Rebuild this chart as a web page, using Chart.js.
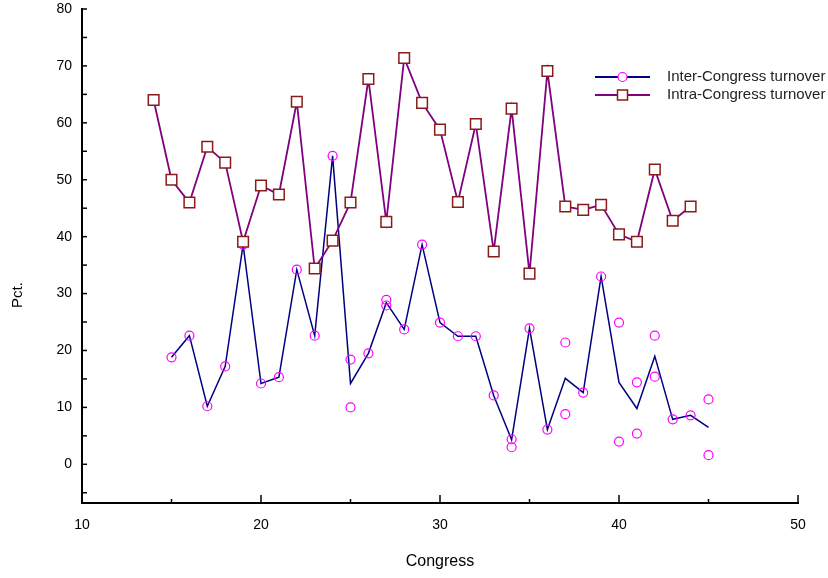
<!DOCTYPE html>
<html>
<head>
<meta charset="utf-8">
<script src="https://cdn.jsdelivr.net/npm/chart.js@4.4.1/dist/chart.umd.min.js"></script>
<style>
  html, body { margin: 0; padding: 0; background: #fff; }
  #wrap { width: 828px; height: 578px; }
</style>
</head>
<body>
<div id="wrap"><canvas id="chart" width="828" height="578"></canvas></div>
<script>
// Intra-Congress turnover, congresses 14..44
const intraCongress = [14, 15, 16, 17, 18, 19, 20, 21, 22, 23, 24, 25, 26, 27, 28, 29, 30, 31, 32, 33, 34, 35, 36, 37, 38, 39, 40, 41, 42, 43, 44];
const intraValues = [64.0, 50.0, 46.0, 55.8, 53.0, 39.1, 49.0, 47.4, 63.7, 34.4, 39.3, 46.0, 67.7, 42.6, 71.4, 63.5, 58.8, 46.1, 59.8, 37.4, 62.5, 33.5, 69.1, 45.3, 44.7, 45.6, 40.4, 39.1, 51.8, 42.8, 45.3];

// Inter-Congress turnover line, congresses 15..45
const interCongress = [15, 16, 17, 18, 19, 20, 21, 22, 23, 24, 25, 26, 27, 28, 29, 30, 31, 32, 33, 34, 35, 36, 37, 38, 39, 40, 41, 42, 43, 44, 45];
const interLine = [18.8, 22.6, 10.2, 17.2, 38.6, 14.2, 15.3, 34.2, 22.6, 54.2, 14.2, 19.5, 28.4, 23.7, 38.6, 24.9, 22.5, 22.5, 12.1, 4.3, 23.9, 6.1, 15.1, 12.6, 33.0, 14.4, 9.8, 19.0, 7.9, 8.6, 6.5];

// Inter-Congress turnover observations (circles)
const obsCongress = [15, 16, 17, 18, 19, 20, 21, 22, 23, 24, 25, 25, 26, 27, 27, 28, 29, 30, 31, 32, 33, 34, 34, 35, 36, 37, 37, 38, 39, 40, 40, 41, 41, 42, 42, 43, 44, 45, 45];
const obsValues = [18.8, 22.6, 10.2, 17.2, 38.6, 14.2, 15.3, 34.2, 22.6, 54.2, 18.4, 10.0, 19.5, 28.9, 27.9, 23.7, 38.6, 24.9, 22.5, 22.5, 12.1, 4.4, 3.0, 23.9, 6.1, 21.4, 8.8, 12.6, 33.0, 24.9, 4.0, 14.4, 5.4, 22.6, 15.4, 7.9, 8.6, 11.4, 1.6];

const xTickLabels = [10, 20, 30, 40, 50];
const yTickLabels = [0, 10, 20, 30, 40, 50, 60, 70, 80];

const seriesNames = ['Inter-Congress turnover', 'Intra-Congress turnover'];

const NAVY = '#000080';
const PURPLE = '#800080';
const SQUARE_EDGE = '#8b1a1a';
const MAGENTA = '#ff00ff';
const tickFont = 'Liberation Sans Narrow, Arial Narrow, Liberation Sans, Arial, sans-serif';

const toPts = (xs, ys) => xs.map((x, i) => ({ x: x, y: ys[i] }));

// inward tick marks, like the original plot
const innerTicks = {
  id: 'innerTicks',
  afterDraw(chart) {
    const { ctx, scales: { x, y } } = chart;
    ctx.save();
    ctx.strokeStyle = '#000';
    ctx.lineWidth = 1.5;
    for (let v = 10; v <= 50; v += 5) {
      const px = x.getPixelForValue(v);
      const len = v % 10 === 0 ? 8 : 4;
      ctx.beginPath();
      ctx.moveTo(px, y.bottom);
      ctx.lineTo(px, y.bottom - len);
      ctx.stroke();
    }
    for (let v = -5; v <= 80; v += 5) {
      const py = y.getPixelForValue(v);
      ctx.beginPath();
      ctx.moveTo(x.left, py);
      ctx.lineTo(x.left + 5, py);
      ctx.stroke();
    }
    // y axis title sits a little below the middle in the original
    ctx.fillStyle = '#000';
    ctx.font = '15px ' + tickFont;
    ctx.textAlign = 'center';
    ctx.textBaseline = 'middle';
    ctx.translate(18, 295);
    ctx.rotate(-Math.PI / 2);
    ctx.fillText('Pct.', 0, 0);
    ctx.restore();
  }
};

// legend with a line and a marker in the middle
const lineLegend = {
  id: 'lineLegend',
  afterDraw(chart) {
    const ctx = chart.ctx;
    const x0 = 595, x1 = 650, rows = [77, 95];
    ctx.save();
    ctx.font = '15px Liberation Sans, Arial, sans-serif';
    ctx.textBaseline = 'middle';
    // row 1
    ctx.strokeStyle = NAVY;
    ctx.lineWidth = 2;
    ctx.beginPath(); ctx.moveTo(x0, rows[0]); ctx.lineTo(x1, rows[0]); ctx.stroke();
    ctx.fillStyle = '#fff';
    ctx.strokeStyle = MAGENTA;
    ctx.lineWidth = 1.2;
    ctx.beginPath(); ctx.arc((x0 + x1) / 2, rows[0], 4.5, 0, Math.PI * 2); ctx.fill(); ctx.stroke();
    // row 2
    ctx.strokeStyle = PURPLE;
    ctx.lineWidth = 2;
    ctx.beginPath(); ctx.moveTo(x0, rows[1]); ctx.lineTo(x1, rows[1]); ctx.stroke();
    ctx.fillStyle = '#fff';
    ctx.strokeStyle = SQUARE_EDGE;
    ctx.lineWidth = 1.5;
    ctx.fillRect((x0 + x1) / 2 - 5, rows[1] - 5, 10, 10);
    ctx.strokeRect((x0 + x1) / 2 - 5, rows[1] - 5, 10, 10);
    ctx.fillStyle = '#222';
    ctx.fillText(seriesNames[0], 667, rows[0]);
    ctx.fillText(seriesNames[1], 667, rows[1]);
    ctx.restore();
  }
};

new Chart(document.getElementById('chart'), {
  type: 'scatter',
  data: {
    datasets: [
      {
        label: seriesNames[1],
        data: toPts(intraCongress, intraValues),
        showLine: true,
        borderColor: PURPLE,
        borderWidth: 1.8,
        pointStyle: 'rect',
        pointRadius: 7.5,
        pointBorderColor: SQUARE_EDGE,
        pointBorderWidth: 1.5,
        pointBackgroundColor: '#fff',
        order: 0
      },
      {
        label: seriesNames[0] + ' obs',
        data: toPts(obsCongress, obsValues),
        showLine: false,
        pointStyle: 'circle',
        pointRadius: 4.5,
        pointBorderColor: MAGENTA,
        pointBorderWidth: 1.2,
        pointBackgroundColor: 'rgba(255,255,255,0)',
        order: 1
      },
      {
        label: seriesNames[0],
        data: toPts(interCongress, interLine),
        showLine: true,
        borderColor: NAVY,
        borderWidth: 1.5,
        pointRadius: 0,
        order: 2
      }
    ]
  },
  options: {
    responsive: false,
    animation: false,
    layout: { padding: { top: 9, right: 30, left: 0, bottom: 0 } },
    plugins: { legend: { display: false }, tooltip: { enabled: false } },
    scales: {
      x: {
        type: 'linear',
        min: 10, max: 50,
        grid: { display: false, drawTicks: false },
        border: { display: true, color: '#000', width: 2 },
        afterBuildTicks: s => { s.ticks = xTickLabels.map(v => ({ value: v })); },
        afterFit: s => { s.height = 75; s.paddingLeft = 0; s.paddingRight = 0; },
        ticks: { color: '#000', padding: 14, font: { family: tickFont, size: 14 } },
        title: {
          display: true, text: 'Congress', color: '#000',
          font: { family: tickFont, size: 16 }, padding: { top: 0, bottom: 7 }
        }
      },
      y: {
        type: 'linear',
        min: -6.8, max: 80,
        grid: { display: false, drawTicks: false },
        border: { display: true, color: '#000', width: 2 },
        afterBuildTicks: s => { s.ticks = yTickLabels.map(v => ({ value: v })); },
        afterFit: s => { s.width = 82; s.paddingTop = 0; s.paddingBottom = 0; },
        ticks: { color: '#000', padding: 10, font: { family: tickFont, size: 14 } },
        title: { display: false }
      }
    }
  },
  plugins: [innerTicks, lineLegend]
});
</script>
</body>
</html>
